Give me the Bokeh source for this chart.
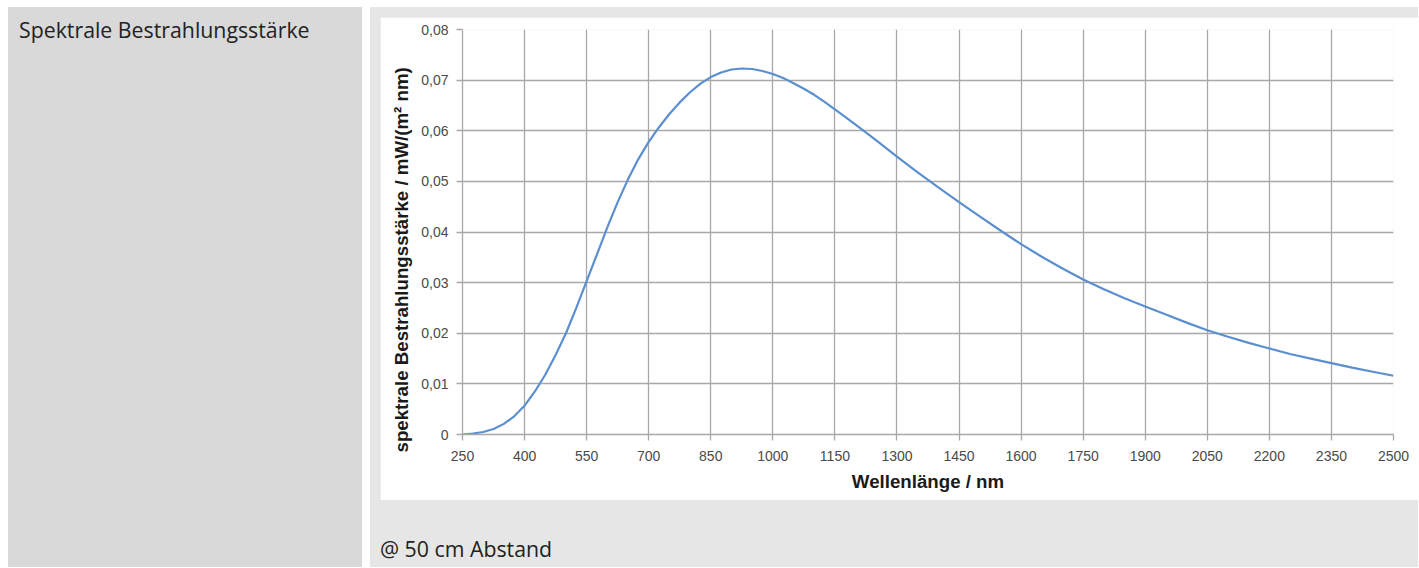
from bokeh.plotting import figure
from bokeh.models import Range1d, FixedTicker, Div, ColumnDataSource, Title
from bokeh.layouts import row, column
from bokeh.embed import file_html
from bokeh.resources import INLINE

# ---- data ----
wavelength_nm = [250, 275, 300, 325, 350, 375, 400, 425, 450, 475, 500, 525, 550, 575, 600,
                 625, 650, 675, 700, 725, 750, 775, 800, 825, 850, 875, 900, 925, 950, 975,
                 1000, 1025, 1050, 1075, 1100, 1125, 1150, 1200, 1250, 1300, 1350, 1400, 1450,
                 1500, 1550, 1600, 1650, 1700, 1750, 1800, 1850, 1900, 1950, 2000, 2050, 2100,
                 2150, 2200, 2250, 2300, 2350, 2400, 2450, 2500]
irradiance = [0.0000, 0.0002, 0.0005, 0.0011, 0.0021, 0.0036, 0.0057, 0.0085, 0.0118, 0.0157,
              0.0200, 0.0250, 0.0303, 0.0356, 0.0409, 0.0459, 0.0504, 0.0544, 0.0578, 0.0607,
              0.0633, 0.0656, 0.0676, 0.0693, 0.0706, 0.0715, 0.0721, 0.0723, 0.0722, 0.0718,
              0.0712, 0.0704, 0.0694, 0.0683, 0.0671, 0.0657, 0.0642, 0.0612, 0.0581, 0.0549,
              0.0518, 0.0488, 0.0459, 0.0431, 0.0403, 0.0376, 0.0351, 0.0328, 0.0306, 0.0287,
              0.0269, 0.0253, 0.0237, 0.0221, 0.0206, 0.0193, 0.0181, 0.0170, 0.0159, 0.0150,
              0.0141, 0.0132, 0.0124, 0.0116]

x_ticks = [250, 400, 550, 700, 850, 1000, 1150, 1300, 1450, 1600, 1750, 1900, 2050, 2200, 2350, 2500]
y_ticks = [0, 0.01, 0.02, 0.03, 0.04, 0.05, 0.06, 0.07, 0.08]
y_tick_labels = ["0", "0,01", "0,02", "0,03", "0,04", "0,05", "0,06", "0,07", "0,08"]

left_text = "Spektrale Bestrahlungsstärke"
note_text = "@ 50 cm Abstand"
x_title = "Wellenlänge / nm"
y_title = "spektrale Bestrahlungsstärke / mW/(m² nm)"

# ---- chart ----
src = ColumnDataSource(data=dict(x=wavelength_nm, y=irradiance))

p = figure(width=1038, height=483, output_backend="svg", toolbar_location=None,
           x_range=Range1d(250, 2500), y_range=Range1d(0, 0.08),
           min_border_left=82, min_border_right=25, min_border_top=12, min_border_bottom=66,
           background_fill_color="white", border_fill_color="white")
p.margin = (10, 0, 0, 10)
p.outline_line_color = None

p.line("x", "y", source=src, line_color="#5b8fd0", line_width=2.2, line_join="round")

p.xaxis.ticker = FixedTicker(ticks=x_ticks)
p.yaxis.ticker = FixedTicker(ticks=y_ticks)
p.yaxis.major_label_overrides = {t: l for t, l in zip(y_ticks, y_tick_labels)}
p.xaxis.major_label_overrides = {t: str(t) for t in x_ticks}

grid_col = "#a8a8a8"
for ax in (p.xaxis[0], p.yaxis[0]):
    ax.axis_line_color = grid_col
    ax.axis_line_width = 1.3
    ax.major_tick_line_color = grid_col
    ax.major_tick_line_width = 1.3
    ax.major_tick_out = 6
    ax.major_tick_in = 0
    ax.minor_tick_line_color = None
    ax.major_label_text_font = "Liberation Sans"
    ax.major_label_text_font_size = "14px"
    ax.major_label_text_color = "#4a4a4a"
    ax.axis_label_text_font = "Liberation Sans"
    ax.axis_label_text_font_style = "bold"
    ax.axis_label_text_font_size = "18.7px"
    ax.axis_label_text_color = "#1a1a1a"

p.xaxis.axis_label = x_title
p.xaxis.major_label_standoff = 10
p.yaxis.major_label_standoff = 8
p.xaxis.axis_label_standoff = 7

# y title placed like the original (starting below the plot bottom, not centred)
p.add_layout(Title(text=y_title, align="left", offset=-18, standoff=14,
                   text_font="Liberation Sans", text_font_style="bold",
                   text_font_size="18.7px", text_color="#1a1a1a"), "left")

p.xgrid.grid_line_color = grid_col
p.ygrid.grid_line_color = grid_col
p.xgrid.grid_line_width = 1.3
p.ygrid.grid_line_width = 1.3

# ---- page cells ----
left = Div(text=left_text, width=354, height=560, margin=(7, 0, 0, 8),
           styles={"background-color": "#d9d9d9", "font-family": "Open Sans",
                   "font-size": "21.3px", "color": "#222222", "padding": "8px 0 0 11px",
                   "box-sizing": "border-box"})

note = Div(text=note_text, width=1000, height=22, margin=(34, 0, 0, 10),
           styles={"font-family": "Open Sans", "font-size": "21.3px", "color": "#222222",
                   "line-height": "normal"})

right = column(p, note, width=1048, height=560, margin=(7, 0, 0, 0),
               styles={"background-color": "#e6e6e6"})

layout = row(left, right, spacing=8)

open("out.html", "w").write(file_html(layout, INLINE))
